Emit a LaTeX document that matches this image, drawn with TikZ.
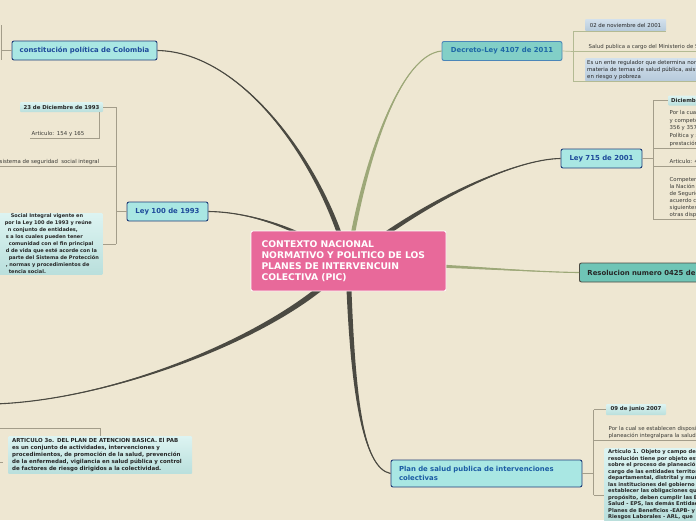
\documentclass[tikz,border=0pt]{standalone}
\usepackage{fontspec}
\setmainfont{DejaVu Sans}
\usepackage{tikz}
\usetikzlibrary{calc}

\definecolor{paper}{HTML}{EEE7D2}
\definecolor{trunk}{HTML}{4B4A42}
\definecolor{branchol}{HTML}{9DA878}
\definecolor{twiggray}{HTML}{A39D8A}
\definecolor{twigolive}{HTML}{B3BA93}
\definecolor{hubpink}{HTML}{E8699A}
\definecolor{aqua}{HTML}{A9E7E3}
\definecolor{dectea}{HTML}{82CFC7}
\definecolor{restea}{HTML}{6FC5B6}
\definecolor{navy}{HTML}{1F3C78}
\definecolor{inkblue}{HTML}{1E4A9A}
\definecolor{decink}{HTML}{1E68A6}
\definecolor{leafink}{HTML}{3A3A36}
\definecolor{notetop}{HTML}{DDF4F2}
\definecolor{notebot}{HTML}{B9DFDC}
\definecolor{bluetop}{HTML}{D3E1EC}
\definecolor{bluebot}{HTML}{B6CADB}

\tikzset{
  hubbox/.style={rectangle, rounded corners=2pt, draw=white, line width=0.8pt, fill=hubpink,
    text=white, font=\bfseries\fontsize{9.2}{11}\selectfont, align=left},
  lawbox/.style={rectangle, rounded corners=2pt, draw=navy, line width=0.9pt, fill=aqua,
    text=inkblue, font=\bfseries\fontsize{6.9}{8.8}\selectfont, minimum height=19},
  decbox/.style={lawbox, draw=decink!80, fill=dectea, text=decink},
  resbox/.style={lawbox, draw=trunk, fill=restea, text=black!85, inner xsep=8},
  leaf/.style={inner sep=1.5, text=leafink, font=\fontsize{5.4}{7}\selectfont, align=left},
  notebox/.style={leaf, rounded corners=1pt, top color=notetop, bottom color=notebot,
    font=\bfseries\fontsize{5}{7}\selectfont, text=black!85},
  datebox/.style={notebox, minimum height=10, inner xsep=3, font=\bfseries\fontsize{5.4}{7}\selectfont},
  bluenote/.style={notebox, top color=bluetop, bottom color=bluebot, font=\fontsize{5.4}{7}\selectfont},
  twig/.style={draw=twiggray, line width=0.7pt},
  twigol/.style={draw=twigolive, line width=0.7pt}
}

% tapered branch from the hub: colour, control near hub, control near end, end, half width at hub
\newcommand{\limb}[5]{%
  \fill[#1] (#4) .. controls (#3) and ($(#2)+(#5)$) .. ($(hub)+(#5)$)
    -- ($(hub)-(#5)$) .. controls ($(#2)-(#5)$) and (#3) .. (#4) -- cycle;
  \draw[#1, line width=1.1pt] (#4) .. controls (#3) and (#2) .. (hub);}

\begin{document}
\begin{tikzpicture}[x=1pt,y=-1pt]
\useasboundingbox (0,0) rectangle (696,520);
\clip (0,0) rectangle (696,520);
\fill[paper] (0,0) rectangle (696,520);
\coordinate (hub) at (348,262);

% main topics
\node[lawbox, minimum width=145] (const) at (84.5,50.5) {constitución política de Colombia};
\node[lawbox, minimum width=81] (ley100) at (167.5,211.5) {Ley 100 de 1993};
\node[decbox, minimum width=120] (decreto) at (502,51) {Decreto-Ley 4107 de 2011};
\node[lawbox, minimum width=81] (ley715) at (601.5,158.5) {Ley 715 de 2001};
\node[resbox, anchor=west, minimum width=140] (resol) at (579,272.5) {Resolucion numero 0425 de 2008};
\node[lawbox, minimum width=191, minimum height=27, text width=175, align=left, text=inkblue!90!cyan]
  (plan) at (486.5,473.5) {Plan de salud publica de intervenciones\\colectivas};
\coordinate (westend) at (-6,404);

\limb{trunk}{325,170}{245,52}{const.east}{2.5,0}
\limb{trunk}{300,228}{250,212}{ley100.east}{0,2.2}
\limb{trunk}{290,330}{120,400}{westend}{1.5,2.5}
\limb{branchol}{362,170}{398,55}{decreto.west}{2.2,0}
\limb{trunk}{425,200}{515,159}{ley715.west}{1.3,2}
\limb{branchol}{460,266}{530,272}{resol.west}{0,2}
\limb{trunk}{352,390}{362,468}{plan.west}{2.5,0}

% constitucion
\coordinate (scon) at (1,50.5);
\draw[twig] (const.west) -- (scon);
\draw[twig] (1,25) -- (1,60);

% ley 100
\coordinate (s100) at (116,211.5);
\node[datebox, minimum width=83] (dic93) at (61.5,107) {23 de Diciembre de 1993};
\node[leaf, anchor=south west, text width=66] (art93) at (30,138) {Articulo: 154 y 165};
\node[leaf, anchor=south east] (sist) at (101,166) {sistema de seguridad\ \ social integral};
\node[notebox, anchor=east, text width=101, inner xsep=2, inner ysep=1] (sis) at (103,244)
  {\hspace*{11pt}Social Integral vigente en\\
   \hspace*{5pt}por la Ley 100 de 1993 y reúne\\
   \hspace*{8pt}n conjunto de entidades,\\
   \hspace*{6pt}s a los cuales pueden tener\\
   \hspace*{9pt}comunidad con el fin principal\\
   \hspace*{6pt}d de vida que esté acorde con la\\
   \hspace*{9pt}parte del Sistema de Protección\\
   \hspace*{6pt}, normas y procedimientos de\\
   \hspace*{9pt}tencia social.};
\draw[twig] (ley100.west) -- (s100);
\draw[twig] (s100 |- dic93.east) -- (s100 |- sis.east);
\draw[twig] (dic93.east) -- (dic93.east -| s100);
\draw[twig] (art93.south west) -- (art93.south east) -- (art93.south east |- dic93.south);
\draw[twig] (sist.south west -| 0,0) -- (sist.south -| s100);
\draw[twig] (sis.east) -- (sis.east -| s100);

% plan de atencion basica
\node[notebox, anchor=north west, text width=176, inner xsep=4, inner ysep=2,
  font=\bfseries\fontsize{5.5}{7.1}\selectfont] (pab) at (8,436)
  {ARTICULO 3o. DEL PLAN DE ATENCION BASICA. El PAB\\
   es un conjunto de actividades, intervenciones y\\
   procedimientos, de promoción de la salud, prevención\\
   de la enfermedad, vigilancia en salud pública y control\\
   de factores de riesgo dirigidos a la colectividad.};
\coordinate (spab) at (-2,428);
\draw[twig] (spab) -| (pab.north -| 100,0);
\draw[twig] (-2,462) -- (3,462);

% decreto 4107
\coordinate (sdec) at (573,51.5);
\node[bluenote, minimum width=81, minimum height=12, inner xsep=3] (nov01) at (625.5,25) {02 de noviembre del 2001};
\node[leaf, anchor=south west] (minsal) at (587,51.5) {Salud publica a cargo del Ministerio de Salud y Protección Social};
\node[bluenote, anchor=north west, text width=250, inner sep=2] (ente) at (585,58)
  {Es un ente regulador que determina normas y directrices en\\
   materia de temas de salud pública, asistencia social, población\\
   en riesgo y pobreza};
\draw[twigol] (decreto.east) -- (sdec);
\draw[twigol] (sdec |- nov01.south) -- (sdec |- ente.south);
\draw[twigol] (nov01.south east) -- (nov01.south east -| sdec);
\draw[twigol] (sdec) -- (minsal.south east);
\draw[twigol] (ente.south east) -- (ente.south east -| sdec);

% ley 715
\coordinate (s715) at (653,158.5);
\node[datebox, anchor=west] (dic01) at (668,100.5) {Diciembre 21 de 2001};
\node[leaf, anchor=south west, font=\fontsize{5.4}{7.7}\selectfont] (cual715) at (668,148)
  {Por la cual se dictan normas orgánicas en materia de recursos\\
   y competencias de conformidad con los artículos 151, 288,\\
   356 y 357 (Acto Legislativo 01 de 2001) de la Constitución\\
   Política y se dictan otras disposiciones para organizar la\\
   prestación de los servicios de educación y salud};
\node[leaf, anchor=south west] (art715) at (668,166) {Articulo: 42 y 43};
\node[leaf, anchor=south west] (comp) at (668,219)
  {Competencias de\\
   la Nación en el sector salud\\
   de Seguridad Social en Salud\\
   acuerdo con la Constitución\\
   siguientes funciones y\\
   otras disposiciones};
\draw[twig] (ley715.east) -- (s715);
\draw[twig] (s715 |- dic01.west) -- (s715 |- comp.south);
\draw[twig] (dic01.west) -- (dic01.west -| s715);
\draw[twig] (cual715.south west -| s715) -- (cual715.south east);
\draw[twig] (art715.south west -| s715) -- (art715.south east);
\draw[twig] (comp.south west -| s715) -- (comp.south east);

% plan de salud publica
\coordinate (splan) at (593.5,473.5);
\node[datebox, minimum width=60, minimum height=11] (jun07) at (636,409.5) {09 de junio 2007};
\node[leaf, anchor=south west] (cual07) at (607,440)
  {Por la cual se establecen disposiciones sobre el proceso de\\
   planeación integralpara la salud};
\node[notebox, anchor=north west, text width=250, inner xsep=4, font=\bfseries\fontsize{5.2}{6.5}\selectfont] (obj07) at (604,448)
  {Artículo 1. Objeto y campo de aplicación. La presente\\
   resolución tiene por objeto establecer disposiciones\\
   sobre el proceso de planeación integral para la salud a\\
   cargo de las entidades territoriales del orden\\
   departamental, distrital y municipal, así como de\\
   las instituciones del gobierno nacional, y\\
   establecer las obligaciones que, para tal\\
   propósito, deben cumplir las Entidades Promotoras de\\
   Salud - EPS, las demás Entidades Administradoras de\\
   Planes de Beneficios -EAPB- y las Administradoras de\\
   Riesgos Laborales - ARL, que};
\draw[twig] (plan.east) -- (splan);
\draw[twig] (splan |- jun07.west) -- (593.5,495);
\draw[twig] (jun07.west) -- (jun07.west -| splan);
\draw[twig] (cual07.south west -| splan) -- (cual07.south east);
\draw[twig] (593.5,495) -- (604,495);

% centre
\node[hubbox, minimum width=195, minimum height=60, text width=174] (ctx) at (348.5,261)
  {CONTEXTO NACIONAL\\NORMATIVO Y POLITICO DE LOS\\PLANES DE INTERVENCUIN\\COLECTIVA (PIC)};
\end{tikzpicture}
\end{document}
